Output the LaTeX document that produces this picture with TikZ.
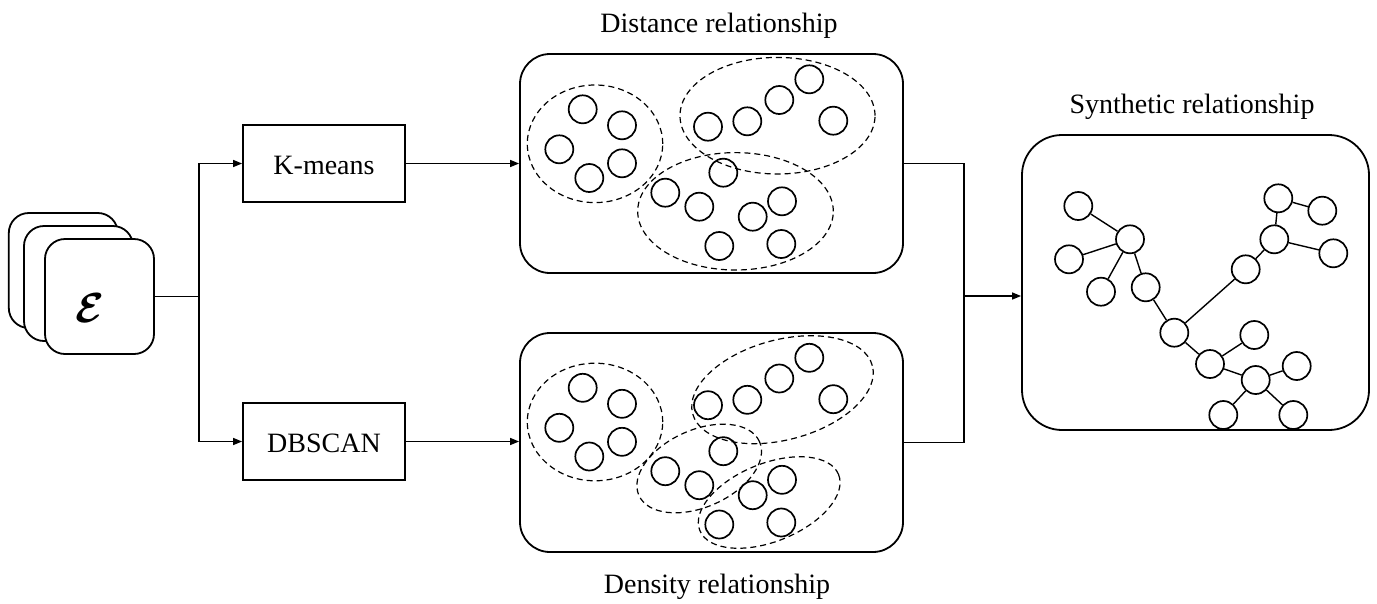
\documentclass[tikz,border=0pt]{standalone}
\usepackage{bm}
\usepackage{fontspec}
\setmainfont{Liberation Serif}
\usetikzlibrary{arrows.meta}
\begin{document}
\begin{tikzpicture}[x=1pt,y=-1pt,
  lbl/.style={font=\fontsize{28}{32}\selectfont, inner sep=0pt, anchor=base},
  card/.style={draw, line width=1.8pt, fill=white, rounded corners=20pt, minimum width=109pt, minimum height=115pt, inner sep=0pt},
  algo/.style={draw, line width=1.8pt, minimum width=162pt, minimum height=77pt, inner sep=0pt},
  panel/.style={draw, line width=1.8pt, rounded corners=30pt, inner sep=0pt},
  dot/.style={draw, circle, line width=1.7pt, minimum size=28pt, inner sep=0pt},
  clus/.style={dashed, dash pattern=on 6pt off 4pt, line width=1.2pt},
  wire/.style={line width=1.4pt},
  arr/.style={wire, -{Triangle[length=9pt,width=7pt]}}]
\useasboundingbox (0,0) rectangle (1377,603);

% stacked input cards
\node[card] (c3) at (63.3,270.5) {};
\node[card] (c2) at (78.5,283.5) {};
\node[card] (c1) at (99.5,296.5) {};
\node[inner sep=0pt] (eps) at (90,308) {\scalebox{4.2}{$\bm{\mathcal{E}}$}};

% clustering algorithms
\node[algo] (km) at (324,163.5) {};
\node[lbl] (kmt) at (324,174) {K-means};
\node[algo] (db) at (324,441.5) {};
\node[lbl] (dbt) at (324,452.5) {DBSCAN};

% relationship panels
\node[panel, minimum width=383pt, minimum height=219pt] (top) at (711.5,163.5) {};
\node[panel, minimum width=383pt, minimum height=219pt] (bot) at (711.5,442.5) {};
\node[panel, rounded corners=40pt, minimum width=347pt, minimum height=295pt] (syn) at (1195.5,282.5) {};

\node[lbl] (topt) at (719,32) {Distance relationship};
\node[lbl] (bott) at (717,593) {Density relationship};
\node[lbl] (synt) at (1192,113) {Synthetic relationship};

% connectors
\coordinate (jl) at (199,296.5);
\coordinate (jr) at (964,296);
\draw[wire] (c1.east) -- (jl);
\draw[arr] (jl) |- (km.west);
\draw[arr] (jl) |- (db.west);
\draw[arr] (km.east) -- (km.east -| top.west);
\draw[arr] (db.east) -- (db.east -| bot.west);
\draw[wire] (top.east) -| (jr);
\draw[wire] (bot.east) -| (jr);
\draw[arr] (jr) -- (jr -| syn.west);

% samples in both panels
\foreach \n/\x/\y in {1/582.7/109.3, 2/622/125.3, 3/559.3/149.3, 4/622/163.3, 5/589.3/178,
  6/708/126.7, 7/747.3/121.3, 8/779.3/100, 9/809.3/79.3, 10/833.3/120.7,
  11/723.3/172.7, 12/665.3/192.7, 13/699.3/206.7, 14/752.7/216.7, 15/782/201.3,
  16/719.3/246, 17/781.3/244} {
  \node[dot] (t\n) at (\x,\y) {};
  \node[dot] (b\n) at (\x,\y+278.5) {};
}

% K-means clusters
\draw[clus] (595,143.8) ellipse [x radius=67.7pt, y radius=58.8pt];
\draw[clus] (777.5,115.7) ellipse [x radius=97.5pt, y radius=58.3pt];
\draw[clus] (735.5,211.3) ellipse [x radius=97.8pt, y radius=58.7pt];

% DBSCAN clusters
\draw[clus] (595,422) ellipse [x radius=67.7pt, y radius=58.8pt];
\draw[clus, rotate around={15:(782.5,389.7)}] (782.5,389.7) ellipse [x radius=93pt, y radius=50pt];
\draw[clus, rotate around={24:(699.2,468.5)}] (699.2,468.5) ellipse [x radius=66pt, y radius=38.6pt];
\draw[clus, rotate around={22:(769.2,502.5)}] (769.2,502.5) ellipse [x radius=74.8pt, y radius=39pt];

% synthetic graph
\foreach \n/\x/\y in {a/1078.3/206, b/1130/239.3, c/1069/259.3, d/1101/291.7, e/1145.7/287.3,
  f/1174.3/332.7, g/1210/364, h/1254.3/335, i/1255.7/380, j/1296.7/366,
  k/1223.3/415, l/1293.3/415, m/1245.7/269.3, n/1274.3/239.3, o/1278.3/198.3,
  p/1322.3/210.7, q/1333.3/253.3} {
  \node[dot] (s\n) at (\x,\y) {};
}
\foreach \u/\v in {a/b, c/b, d/b, b/e, e/f, f/m, m/n, n/o, o/p, n/q, f/g, g/h, g/i, i/j, i/k, i/l} {
  \draw[wire] (s\u) -- (s\v);
}
\end{tikzpicture}
\end{document}
